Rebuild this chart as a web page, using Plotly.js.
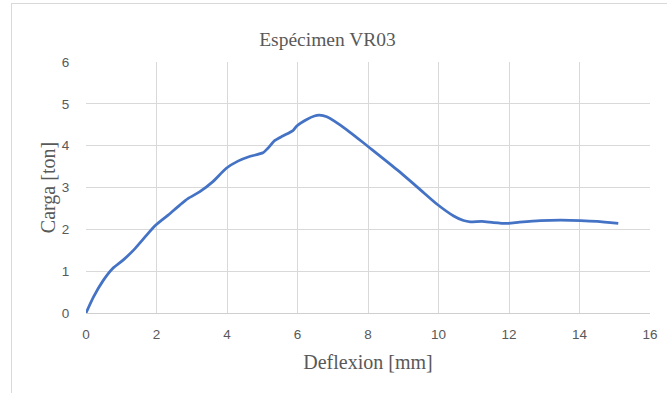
<!DOCTYPE html>
<html>
<head>
<meta charset="utf-8">
<script src="https://cdn.plot.ly/plotly-3.0.1.min.js"></script>
<style>
html,body{margin:0;padding:0;background:#fff;}
#frame{position:absolute;left:11px;top:3px;width:700px;height:420px;border:1px solid #d9d9d9;box-sizing:border-box;pointer-events:none;}
#chart{position:absolute;left:0;top:0;width:667px;height:393px;}
</style>
</head>
<body>
<div id="chart"></div>
<div id="frame"></div>
<script>
var deflexion = [0, 0.21, 0.49, 0.75, 1.06, 1.39, 1.72, 1.95, 2.33, 2.66, 2.90, 3.23, 3.60, 3.98, 4.31, 4.64, 5.02, 5.16, 5.35, 5.58, 5.87, 5.98, 6.25, 6.48, 6.62, 6.83, 7.40, 8.00, 8.83, 9.48, 9.96, 10.43, 10.71, 10.90, 11.23, 11.56, 11.94, 12.30, 12.89, 13.46, 14.03, 14.50, 15.10];
var carga    = [0, 0.38, 0.78, 1.06, 1.27, 1.54, 1.86, 2.08, 2.34, 2.58, 2.74, 2.90, 3.14, 3.46, 3.63, 3.74, 3.83, 3.94, 4.12, 4.23, 4.36, 4.47, 4.62, 4.71, 4.73, 4.69, 4.38, 3.98, 3.42, 2.95, 2.60, 2.32, 2.21, 2.18, 2.19, 2.16, 2.14, 2.17, 2.21, 2.22, 2.21, 2.19, 2.14];
var xTicks = [0, 2, 4, 6, 8, 10, 12, 14, 16];
var yTicks = [0, 1, 2, 3, 4, 5, 6];

var trace = {
  x: deflexion, y: carga, type: 'scatter', mode: 'lines',
  line: {color: '#4472C4', width: 2.75, shape: 'spline', smoothing: 0.6},
  hoverinfo: 'none'
};
var tickFont = {family: 'Liberation Sans, Arial, sans-serif', size: 13.5, color: '#595959'};
var serif = 'Liberation Serif, Times New Roman, serif';
var layout = {
  width: 667, height: 393,
  margin: {l: 86, r: 17, t: 62, b: 80},
  paper_bgcolor: 'rgba(0,0,0,0)', plot_bgcolor: '#fff',
  showlegend: false,
  title: {text: 'Espécimen VR03', xref: 'container', x: 327.5/667, xanchor: 'center', yref: 'container', y: 1 - 39/393, yanchor: 'middle',
          font: {family: serif, size: 19.5, color: '#595959'}},
  xaxis: {range: [0, 16], tickvals: xTicks, ticktext: xTicks.map(String), showgrid: true, gridcolor: '#d9d9d9', gridwidth: 1,
          zeroline: false, showline: true, linecolor: '#cfcfcf', linewidth: 1, mirror: false,
          ticks: 'outside', ticklen: 9, tickcolor: 'rgba(0,0,0,0)', tickfont: tickFont, fixedrange: true,
          title: {text: 'Deflexion [mm]', standoff: 13, font: {family: serif, size: 20, color: '#595959'}}},
  yaxis: {range: [0, 6], tickvals: yTicks, ticktext: yTicks.map(String), showgrid: true, gridcolor: '#d9d9d9', gridwidth: 1,
          zeroline: false, showline: false,
          ticks: 'outside', ticklen: 13, tickcolor: 'rgba(0,0,0,0)', tickfont: tickFont, fixedrange: true,
          title: {text: 'Carga [ton]', standoff: 0, font: {family: serif, size: 20, color: '#595959'}}}
};
Plotly.newPlot('chart', [trace], layout, {displayModeBar: false, staticPlot: true});
</script>
</body>
</html>
